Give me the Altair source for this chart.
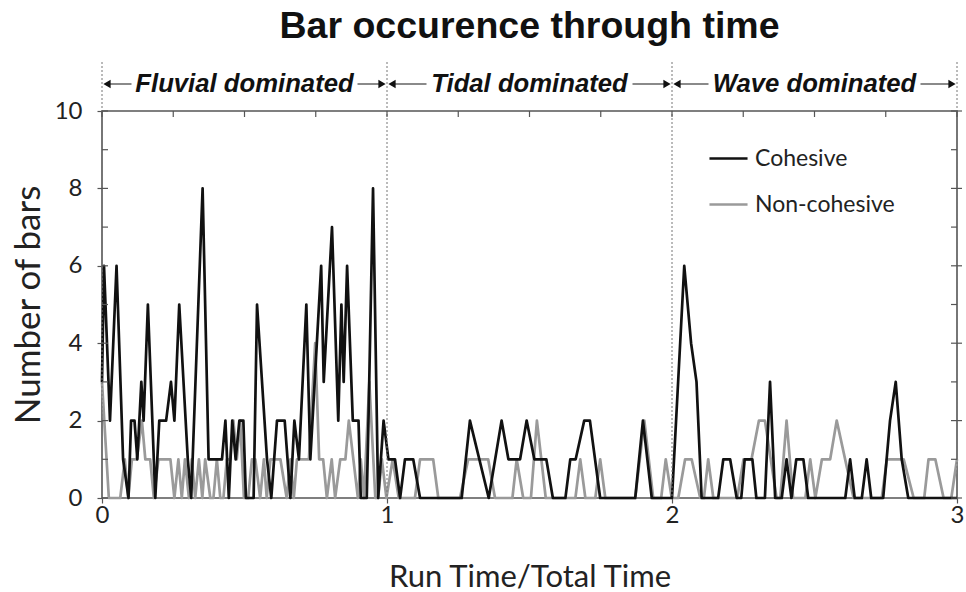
import altair as alt
import pandas as pd

# ---------------- data ----------------
# Cohesive (black) polyline: time (run time / total time) and number of bars
coh_t = [
    # fluvial
    0.000, 0.007, 0.028, 0.051, 0.074, 0.093, 0.102, 0.114, 0.124, 0.138,
    0.146, 0.161, 0.187, 0.201, 0.225, 0.242, 0.254, 0.271, 0.301, 0.313,
    0.353, 0.374, 0.421, 0.433, 0.445, 0.457, 0.469, 0.482, 0.496, 0.505,
    0.532, 0.544, 0.579, 0.594, 0.614, 0.641, 0.661, 0.675, 0.691, 0.717,
    0.731, 0.769, 0.778, 0.807, 0.829, 0.840, 0.848, 0.860, 0.880, 0.900,
    0.908, 0.929, 0.935, 0.951, 0.969, 0.988,
    # tidal
    1.005, 1.028, 1.046, 1.063, 1.092, 1.116, 1.262, 1.291, 1.357, 1.402,
    1.426, 1.467, 1.490, 1.517, 1.559, 1.582, 1.626, 1.643, 1.662, 1.692,
    1.712, 1.748, 1.871, 1.898, 1.929,
    # wave
    2.000, 2.043, 2.067, 2.086, 2.104, 2.162, 2.180, 2.204, 2.227, 2.243,
    2.255, 2.282, 2.296, 2.326, 2.344, 2.362, 2.385, 2.402, 2.419, 2.436,
    2.461, 2.478, 2.608, 2.625, 2.641, 2.666, 2.683, 2.699, 2.741, 2.765,
    2.785, 2.806, 2.829, 3.000,
]
coh_n = [
    3, 6, 2, 6, 1, 0, 2, 2, 1, 3,
    2, 5, 0, 2, 2, 3, 2, 5, 1, 0,
    8, 1, 1, 2, 0, 2, 1, 2, 2, 0,
    0, 5, 1, 0, 2, 2, 0, 2, 1, 5,
    1, 6, 3, 7, 2, 5, 3, 6, 2, 2,
    0, 0, 2, 8, 0, 2,
    1, 1, 0, 1, 1, 0, 0, 2, 0, 2,
    1, 1, 2, 1, 1, 0, 0, 1, 1, 2,
    2, 0, 0, 2, 0,
    0, 6, 4, 3, 0, 0, 1, 1, 0, 0,
    1, 1, 0, 0, 3, 0, 0, 1, 0, 1,
    1, 0, 0, 1, 0, 0, 1, 0, 0, 2,
    3, 1, 0, 0,
]

# Non-cohesive (grey) polyline
non_t = [
    # fluvial
    0.000, 0.024, 0.064, 0.080, 0.092, 0.105, 0.122, 0.140, 0.152, 0.169,
    0.182, 0.198, 0.240, 0.254, 0.268, 0.280, 0.291, 0.305, 0.315, 0.327,
    0.340, 0.352, 0.362, 0.380, 0.391, 0.403, 0.415, 0.426, 0.438, 0.450,
    0.461, 0.473, 0.485, 0.498, 0.513, 0.526, 0.538, 0.555, 0.568, 0.578,
    0.591, 0.626, 0.648, 0.661, 0.673, 0.684, 0.726, 0.748, 0.762, 0.776,
    0.789, 0.806, 0.818, 0.836, 0.854, 0.866, 0.882, 0.898, 0.908, 0.919,
    0.938, 0.959, 0.969,
    # tidal
    0.982, 0.998, 1.020, 1.041, 1.098, 1.116, 1.162, 1.180, 1.256, 1.285,
    1.355, 1.379, 1.440, 1.455, 1.478, 1.505, 1.526, 1.557, 1.661, 1.678,
    1.696, 1.731, 1.748, 1.766, 1.871, 1.903, 1.934, 1.962, 1.978, 1.999,
    # wave
    2.022, 2.046, 2.069, 2.099, 2.112, 2.127, 2.145, 2.229, 2.251, 2.279,
    2.305, 2.326, 2.367, 2.380, 2.402, 2.425, 2.468, 2.485, 2.503, 2.526,
    2.555, 2.578, 2.637, 2.736, 2.754, 2.813, 2.848, 2.885, 2.900, 2.924,
    2.953, 2.980, 3.000,
]
non_n = [
    3, 0, 0, 1, 0, 1, 1, 2, 1, 1,
    0, 1, 1, 0, 1, 0, 1, 0, 1, 0,
    1, 0, 1, 0, 0, 1, 0, 0, 1, 1,
    2, 1, 2, 0, 0, 1, 1, 0, 1, 0,
    1, 1, 0, 1, 0, 1, 1, 4, 1, 1,
    0, 1, 0, 1, 1, 2, 1, 0, 1, 0,
    3, 0, 0,
    1, 0, 1, 0, 0, 1, 1, 0, 0, 1,
    1, 0, 0, 1, 0, 0, 2, 0, 0, 1,
    0, 0, 1, 0, 0, 2, 0, 0, 1, 0,
    0, 1, 1, 0, 0, 1, 0, 0, 1, 1,
    2, 2, 0, 0, 2, 0, 0, 1, 0, 1,
    1, 2, 0, 0, 1, 1, 0, 0, 1, 1,
    0, 0, 1,
]

series_names = ["Cohesive", "Non-cohesive"]
series_colors = ["#111111", "#9a9a9a"]

regions = ["Fluvial dominated", "Tidal dominated", "Wave dominated"]
region_start = [0, 1, 2]
region_end = [1, 2, 3]
boundaries = [0, 1, 2, 3]

x_tick_values = [0, 0.25, 0.5, 0.75, 1, 1.25, 1.5, 1.75, 2, 2.25, 2.5, 2.75, 3]
y_label_values = [0, 2, 4, 6, 8, 10]
y_minor_values = [1, 3, 5, 7, 9]

assert len(coh_t) == len(coh_n)
assert len(non_t) == len(non_n)

# ---------------- layout / style ----------------
W, H = 855, 387
AX = "#555555"
LABEL_FONT = "Lato"
HEAD_FONT = "Liberation Sans"
ANN_Y = -27
half_text = {"Fluvial dominated": 113, "Tidal dominated": 103, "Wave dominated": 106}

lines_df = pd.concat([
    pd.DataFrame({"t": non_t, "n": non_n, "series": series_names[1]}),
    pd.DataFrame({"t": coh_t, "n": coh_n, "series": series_names[0]}),
], ignore_index=True)

xscale = alt.Scale(domain=[0, 3], nice=False, zero=False)
yscale = alt.Scale(domain=[0, 10], nice=False, zero=True)

lines = alt.Chart(lines_df).mark_line(strokeWidth=2.7, strokeJoin="round").encode(
    x=alt.X("t:Q", scale=xscale,
            axis=alt.Axis(values=x_tick_values, format="d", labelFlush=False,
                          labelExpr="datum.value % 1 === 0 ? datum.label : ''",
                          title="Run Time/Total Time", titleFontSize=31,
                          titleFont=LABEL_FONT, titleFontWeight="normal",
                          titleColor="#222", titlePadding=35,
                          labelFont=LABEL_FONT, labelFontSize=24, labelColor="#222",
                          labelPadding=0, tickSize=5, tickColor=AX, tickWidth=1.2,
                          domain=False, grid=False)),
    y=alt.Y("n:Q", scale=yscale,
            axis=alt.Axis(values=y_label_values, title="Number of bars",
                          titleFontSize=35, titleFont=LABEL_FONT,
                          titleFontWeight="normal", titleColor="#222",
                          titlePadding=8, labelFont=LABEL_FONT, labelFontSize=24,
                          labelColor="#222", labelPadding=15, tickSize=5,
                          tickColor=AX, tickWidth=1.2, domain=False, grid=False)),
    color=alt.Color("series:N",
                    scale=alt.Scale(domain=series_names, range=series_colors),
                    legend=alt.Legend(title=None, orient="none", legendX=606,
                                      legendY=27, symbolType="stroke",
                                      symbolSize=1450, symbolStrokeWidth=2.7,
                                      labelFont=LABEL_FONT, labelFontSize=23,
                                      labelColor="#222", rowPadding=13,
                                      labelOffset=6)),
)

tick_major_df = pd.DataFrame({"v": y_label_values})
top_df = pd.DataFrame({"v": x_tick_values})

left_in = alt.Chart(pd.DataFrame({"v": y_minor_values + y_label_values})).mark_rule(
    color=AX, strokeWidth=1.2).encode(
    y=alt.Y("v:Q", scale=yscale), x=alt.value(0), x2=alt.value(6))
right_in = alt.Chart(pd.DataFrame({"v": y_minor_values})).mark_rule(
    color=AX, strokeWidth=1.2).encode(
    y=alt.Y("v:Q", scale=yscale), x=alt.value(W - 6), x2=alt.value(W))
right_major = alt.Chart(tick_major_df).mark_rule(color=AX, strokeWidth=1.2).encode(
    y=alt.Y("v:Q", scale=yscale), x=alt.value(W - 6), x2=alt.value(W + 5))
top_in = alt.Chart(top_df).mark_rule(color=AX, strokeWidth=1.2).encode(
    x=alt.X("v:Q", scale=xscale), y=alt.value(0), y2=alt.value(6))

sep = alt.Chart(pd.DataFrame({"b": boundaries})).mark_rule(
    color="#777777", strokeWidth=1, strokeDash=[2, 2]).encode(
    x=alt.X("b:Q", scale=xscale), y=alt.value(-49), y2=alt.value(H))

reg_df = pd.DataFrame({"label": regions, "start": region_start, "end": region_end})

ann_layers = []
for lab in regions:
    one = alt.Chart(reg_df).transform_filter(alt.datum.label == lab).transform_calculate(
        mid="(datum.start + datum.end) / 2")
    hw = half_text[lab]
    ann_layers.append(one.mark_rule(color="#8a8a8a", strokeWidth=2, xOffset=4,
                                    x2Offset=-hw).encode(
        x=alt.X("start:Q", scale=xscale), x2="mid:Q", y=alt.value(ANN_Y)))
    ann_layers.append(one.mark_rule(color="#8a8a8a", strokeWidth=2, xOffset=hw,
                                    x2Offset=-4).encode(
        x=alt.X("mid:Q", scale=xscale), x2="end:Q", y=alt.value(ANN_Y)))

ann_base = alt.Chart(reg_df).transform_calculate(mid="(datum.start + datum.end) / 2")
ann_text = ann_base.mark_text(font=HEAD_FONT, fontWeight="bold", fontStyle="italic",
                              fontSize=25.7, baseline="middle", color="#111").encode(
    x=alt.X("mid:Q", scale=xscale), y=alt.value(ANN_Y), text="label:N")
head_l = ann_base.mark_point(shape="triangle-left", filled=True, size=70, opacity=1,
                             color="#111", xOffset=5).encode(
    x=alt.X("start:Q", scale=xscale), y=alt.value(ANN_Y))
head_r = ann_base.mark_point(shape="triangle-right", filled=True, size=70, opacity=1,
                             color="#111", xOffset=-5).encode(
    x=alt.X("end:Q", scale=xscale), y=alt.value(ANN_Y))

chart = alt.layer(
    lines, sep, left_in, right_in, right_major, top_in,
    *ann_layers, ann_text, head_l, head_r,
).properties(
    width=W, height=H,
    background="white",
    title=alt.TitleParams("Bar occurence through time", font=HEAD_FONT,
                          fontSize=37.5, fontWeight="bold", color="#111",
                          anchor="middle", offset=16),
    autosize=alt.AutoSizeParams(type="none"),
    padding={"left": 102, "top": 111, "right": 9, "bottom": 94},
).configure_view(stroke=AX, strokeWidth=1.6)

chart.save("out.html", embed_options={"renderer": "svg", "actions": False})
